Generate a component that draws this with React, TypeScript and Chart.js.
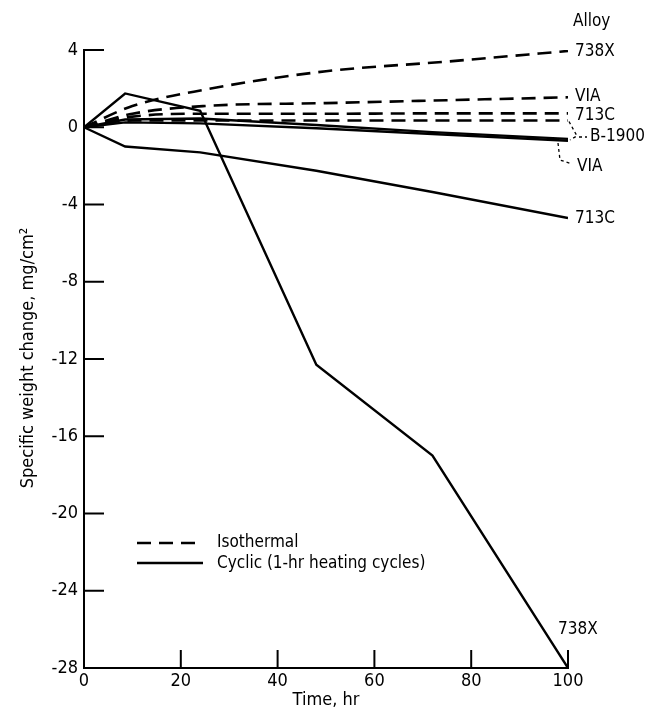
import React, { useEffect, useRef } from "react";
import { Chart, registerables } from "chart.js";

Chart.register(...registerables);

const cyclicHours = [0, 8.5, 24, 48, 72, 100];
const cyclic738X = [0, 1.75, 0.85, -12.3, -17.0, -28.0];
const cyclic713C = [0, -1.0, -1.3, -2.25, -3.35, -4.7];
const cyclicB1900 = [0, 0.4, 0.45, 0.12, -0.25, -0.6];
const cyclicVIA = [0, 0.25, 0.2, -0.05, -0.35, -0.7];

const isoHours = [0, 10, 25, 50, 75, 100];
const iso738X = [0, 1.1, 1.95, 2.9, 3.4, 3.95];
const isoVIA = [0, 0.7, 1.1, 1.25, 1.4, 1.55];
const iso713C = [0, 0.55, 0.7, 0.7, 0.72, 0.72];
const isoB1900 = [0, 0.35, 0.35, 0.35, 0.35, 0.35];

const yTicks = [4, 0, -4, -8, -12, -16, -20, -24, -28];
const xTicks = [0, 20, 40, 60, 80, 100];

const FONT = "'Liberation Sans Narrow', 'DejaVu Sans Condensed', sans-serif";

const pts = (xs: number[], ys: number[]) => xs.map((x, i) => ({ x, y: ys[i] }));

export default function App() {
  const ref = useRef<HTMLCanvasElement | null>(null);
  useEffect(() => {
    if (!ref.current) return;
    const iso = (label: string, d: number[]) => ({
      label,
      data: pts(isoHours, d),
      borderColor: "#000",
      borderWidth: 2.6,
      borderDash: [14, 8],
      pointRadius: 0,
      tension: 0.3,
      cubicInterpolationMode: "monotone" as const,
      fill: false,
    });
    const cyc = (label: string, d: number[]) => ({
      label,
      data: pts(cyclicHours, d),
      borderColor: "#000",
      borderWidth: 2.4,
      pointRadius: 0,
      tension: 0,
      fill: false,
    });
    const deco = {
      id: "deco",
      afterDraw(chart: any) {
        const c = chart.ctx;
        const xs = chart.scales.x;
        const ys = chart.scales.y;
        const X = (v: number) => xs.getPixelForValue(v);
        const Y = (v: number) => ys.getPixelForValue(v);
        c.save();
        c.strokeStyle = "#000";
        c.fillStyle = "#000";
        c.lineWidth = 2;
        // inward ticks
        yTicks.forEach((v) => {
          if (v === -28) return;
          c.beginPath();
          c.moveTo(X(0), Y(v));
          c.lineTo(X(0) + 20, Y(v));
          c.stroke();
        });
        xTicks.forEach((v) => {
          if (v === 0) return;
          c.beginPath();
          c.moveTo(X(v), Y(-28));
          c.lineTo(X(v), Y(-28) - 18);
          c.stroke();
        });
        // titles
        c.font = `18px ${FONT}`;
        c.textAlign = "center";
        c.textBaseline = "middle";
        c.fillText("Time, hr", (X(0) + X(100)) / 2, 692);
        c.save();
        c.translate(20, 350);
        c.rotate(-Math.PI / 2);
        c.fillText("Specific weight change, mg/cm²", 0, 0);
        c.restore();
        // right labels
        c.font = `17px ${FONT}`;
        c.textAlign = "left";
        const xe = X(100);
        c.fillText("Alloy", 565, 14);
        c.fillText("738X", xe + 7, Y(iso738X[5]) + 1);
        c.fillText("VIA", xe + 7, Y(isoVIA[5]) - 1);
        c.fillText("713C", xe + 7, Y(iso713C[5]) + 2);
        c.fillText("B-1900", 582, 129);
        c.fillText("VIA", 569, 159);
        c.fillText("713C", xe + 7, Y(cyclic713C[5]) + 1);
        c.fillText("738X", xe - 10, Y(cyclic738X[5]) - 38);
        // leaders
        c.lineWidth = 1.3;
        c.setLineDash([3, 3]);
        c.beginPath();
        c.moveTo(xe + 1, Y(isoB1900[5]) + 1);
        c.lineTo(xe + 9, 128);
        c.lineTo(xe + 2, Y(cyclicB1900[5]) + 1);
        c.moveTo(xe + 11, 129);
        c.lineTo(xe + 19, 129);
        c.moveTo(550, 135);
        c.lineTo(552, 152);
        c.lineTo(564, 156);
        c.stroke();
        c.setLineDash([]);
        // legend
        c.font = `17px ${FONT}`;
        c.lineWidth = 2.6;
        c.setLineDash([14, 8]);
        c.beginPath();
        c.moveTo(129, 535);
        c.lineTo(195, 535);
        c.stroke();
        c.setLineDash([]);
        c.lineWidth = 2.4;
        c.beginPath();
        c.moveTo(129, 555);
        c.lineTo(195, 555);
        c.stroke();
        c.fillText("Isothermal", 209, 535);
        c.fillText("Cyclic (1-hr heating cycles)", 209, 556);
        c.restore();
      },
    };
    const chart = new Chart(ref.current, {
      type: "line",
      data: {
        datasets: [
          iso("738X isothermal", iso738X),
          iso("VIA isothermal", isoVIA),
          iso("713C isothermal", iso713C),
          iso("B-1900 isothermal", isoB1900),
          cyc("738X cyclic", cyclic738X),
          cyc("713C cyclic", cyclic713C),
          cyc("B-1900 cyclic", cyclicB1900),
          cyc("VIA cyclic", cyclicVIA),
        ],
      },
      options: {
        responsive: false,
        animation: false,
        layout: { padding: { top: 42, right: 82, left: 0, bottom: 0 } },
        plugins: { legend: { display: false }, tooltip: { enabled: false } },
        scales: {
          x: {
            type: "linear",
            min: 0,
            max: 100,
            grid: { display: false, drawTicks: false },
            border: { display: true, color: "#000", width: 2 },
            ticks: {
              stepSize: 20,
              color: "#000",
              padding: 3,
              font: { family: FONT, size: 18 },
              maxRotation: 0,
            },
            afterFit: (s: any) => {
              s.height = 49;
            },
          },
          y: {
            type: "linear",
            min: -28,
            max: 4,
            grid: { display: false, drawTicks: false },
            border: { display: true, color: "#000", width: 2 },
            ticks: {
              stepSize: 4,
              color: "#000",
              padding: 6,
              font: { family: FONT, size: 18 },
            },
            afterFit: (s: any) => {
              s.width = 76;
            },
          },
        },
      },
      plugins: [deco],
    });
    return () => chart.destroy();
  }, []);
  return (
    <div style={{ width: 642, height: 709 }}>
      <canvas ref={ref} width={642} height={709} />
    </div>
  );
}
